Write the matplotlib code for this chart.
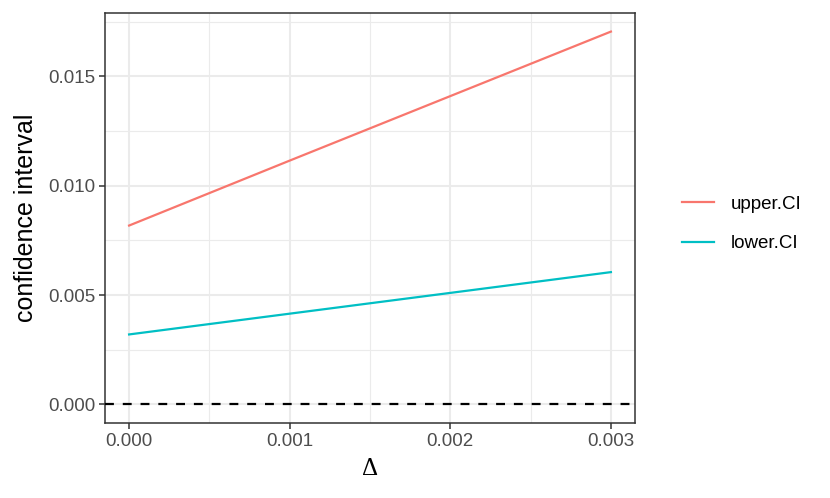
import matplotlib.pyplot as plt
from matplotlib.ticker import MultipleLocator

# values
delta = [0.000, 0.001, 0.002, 0.003]
upper_ci = [0.00818, 0.01115, 0.01410, 0.01705]
lower_ci = [0.00320, 0.00415, 0.00510, 0.00605]

plt.rcParams['font.family'] = ['Liberation Sans', 'DejaVu Sans']

fig = plt.figure(figsize=(8.3, 4.98), dpi=100)
ax = fig.add_axes([105 / 830, 75 / 498, 530 / 830, 410 / 498])

ax.plot(delta, upper_ci, color='#F8766D', lw=1.6, label='upper.CI', zorder=3)
ax.plot(delta, lower_ci, color='#00BFC4', lw=1.6, label='lower.CI', zorder=3)
ax.axhline(0, color='black', lw=1.6, ls=(0, (4, 4)), zorder=3)

ax.set_xlim(-0.00015, 0.00315)
ax.set_ylim(-0.00085, 0.0179)
ax.xaxis.set_major_locator(MultipleLocator(0.001))
ax.xaxis.set_minor_locator(MultipleLocator(0.0005))
ax.yaxis.set_major_locator(MultipleLocator(0.005))
ax.yaxis.set_minor_locator(MultipleLocator(0.0025))
ax.xaxis.set_major_formatter(lambda v, p: f'{v:.3f}')
ax.yaxis.set_major_formatter(lambda v, p: f'{v:.3f}')

ax.grid(which='major', color='#EBEBEB', lw=1.5, zorder=0)
ax.grid(which='minor', color='#EBEBEB', lw=0.8, zorder=0)
ax.set_axisbelow(True)
ax.tick_params(which='major', length=4, width=1.1, color='#333333',
               labelsize=13.5, labelcolor='#4D4D4D', pad=3)
ax.tick_params(which='minor', length=0)
for s in ax.spines.values():
    s.set_color('#333333')
    s.set_linewidth(1.1)

ax.set_ylabel('confidence interval', fontsize=18, labelpad=7)
ax.set_xlabel('Δ', fontsize=18, family=['Liberation Serif', 'DejaVu Serif'], labelpad=6)

ax.legend(loc='center left', bbox_to_anchor=(665 / 830, 274 / 498),
          bbox_transform=fig.transFigure, frameon=False, fontsize=13.5,
          handlelength=1.7, handletextpad=0.9, labelspacing=1.2)

fig.savefig('out.png', dpi=100)
